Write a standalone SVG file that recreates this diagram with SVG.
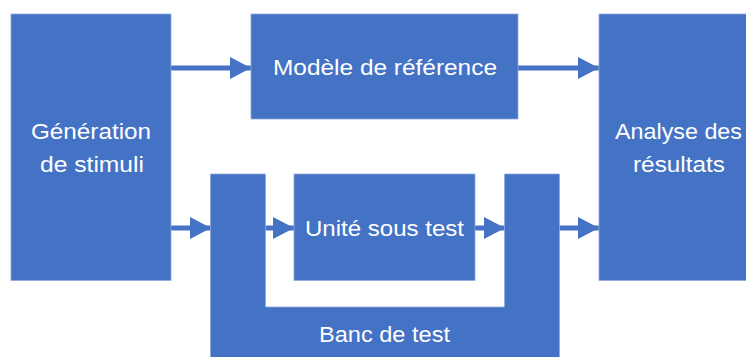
<svg xmlns="http://www.w3.org/2000/svg" width="746" height="357" viewBox="0 0 746 357">
  <defs>
    <style>
      .box { fill: #4472C4; stroke: #8FAADC; stroke-width: 0.8; }
      .lbl { fill: #FFFFFF; font-family: "Liberation Sans", Arial, sans-serif; font-size: 22px; text-anchor: middle; }
      .wire { stroke: #4472C4; stroke-width: 5; fill: none; }
    </style>
    <marker id="head" markerUnits="userSpaceOnUse" markerWidth="22" markerHeight="22" refX="21" refY="11" orient="auto">
      <path d="M0,0 L21,11 L0,22 Z" fill="#4472C4"/>
    </marker>
  </defs>
  <rect width="746" height="357" fill="#FFFFFF"/>

  <!-- connectors -->
  <g id="connectors">
    <line class="wire" x1="171" y1="68" x2="251" y2="68" marker-end="url(#head)"/>
    <line class="wire" x1="518" y1="68" x2="599" y2="68" marker-end="url(#head)"/>
    <line class="wire" x1="171" y1="228" x2="211" y2="228" marker-end="url(#head)"/>
    <line class="wire" x1="265" y1="228" x2="294" y2="228" marker-end="url(#head)"/>
    <line class="wire" x1="475" y1="228" x2="505" y2="228" marker-end="url(#head)"/>
    <line class="wire" x1="559" y1="228" x2="599" y2="228" marker-end="url(#head)"/>
  </g>

  <g id="generation">
    <rect class="box" x="11" y="14" width="160" height="266.5"/>
    <text class="lbl" x="91" y="139" textLength="120" lengthAdjust="spacingAndGlyphs">Génération</text>
    <text class="lbl" x="92" y="172" textLength="104" lengthAdjust="spacingAndGlyphs">de stimuli</text>
  </g>

  <g id="modele">
    <rect class="box" x="251" y="14" width="267" height="105"/>
    <text class="lbl" x="385" y="74.5" textLength="224" lengthAdjust="spacingAndGlyphs">Modèle de référence</text>
  </g>

  <g id="analyse">
    <rect class="box" x="599" y="14" width="160" height="266.5"/>
    <text class="lbl" x="678.5" y="139" textLength="127" lengthAdjust="spacingAndGlyphs">Analyse des</text>
    <text class="lbl" x="679" y="172" textLength="92" lengthAdjust="spacingAndGlyphs">résultats</text>
  </g>

  <g id="banc">
    <path class="box" d="M210.5,174 H265.5 V307 H504.5 V174 H559.5 V362 H210.5 Z"/>
    <text class="lbl" x="384.5" y="341.5" textLength="131" lengthAdjust="spacingAndGlyphs">Banc de test</text>
  </g>

  <g id="unite">
    <rect class="box" x="294" y="174" width="181" height="106.5"/>
    <text class="lbl" x="384.5" y="236" textLength="159" lengthAdjust="spacingAndGlyphs">Unité sous test</text>
  </g>
</svg>
